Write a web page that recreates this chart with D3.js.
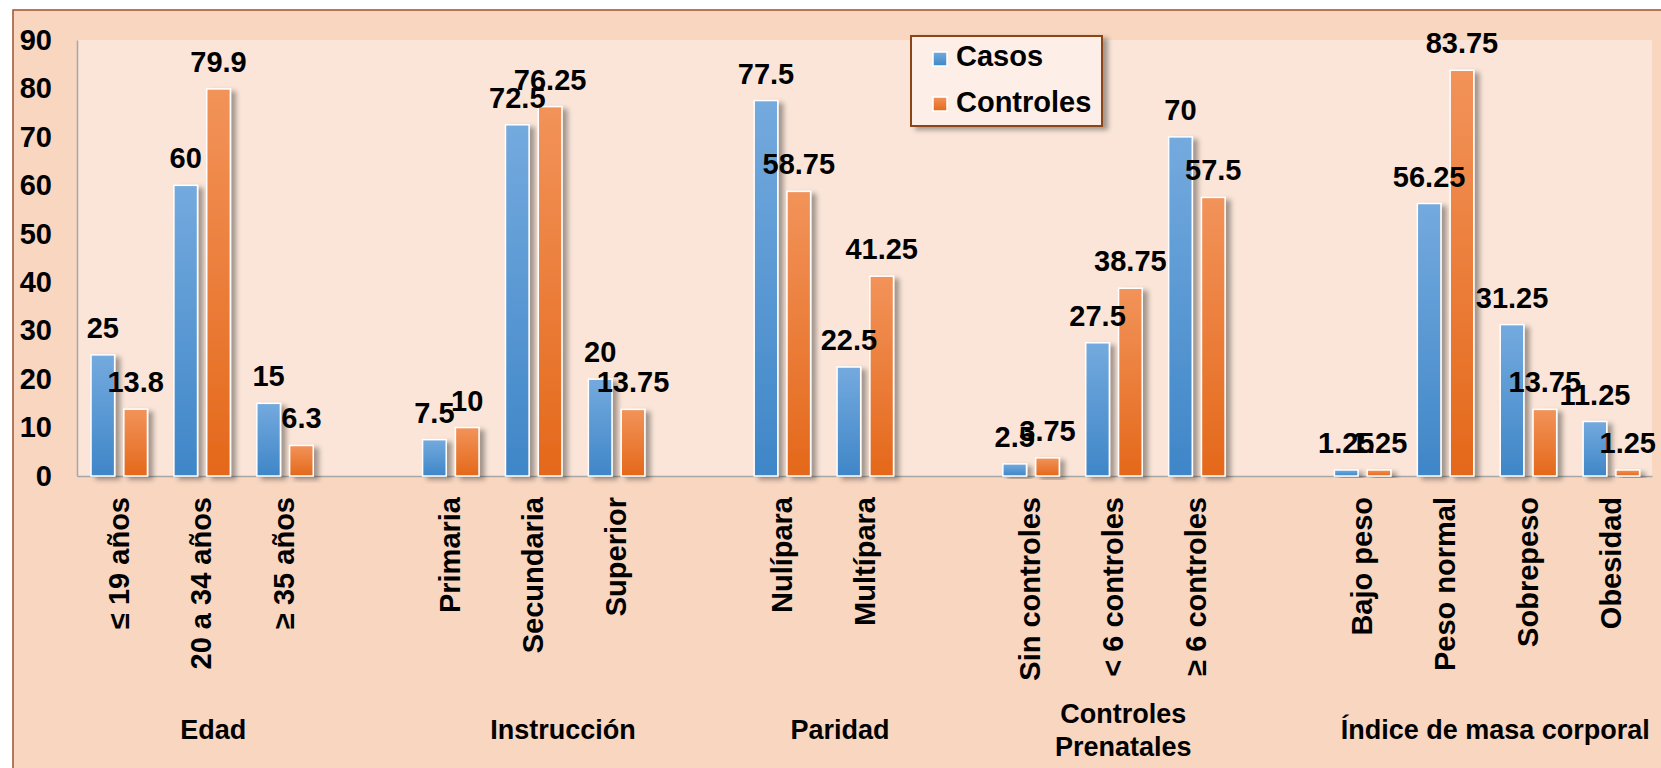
<!DOCTYPE html>
<html>
<head>
<meta charset="utf-8">
<script src="https://cdn.jsdelivr.net/npm/d3@7"></script>
<style>
  body { margin: 0; background: #fff; overflow: hidden; }
  svg text { font-family: "Liberation Sans", Arial, sans-serif; font-weight: bold; fill: #000; }
</style>
</head>
<body>
<div id="chart"></div>
<script>
// data
var groups = ["Edad", "Instrucción", "Paridad", "Controles Prenatales", "Índice de masa corporal"];
var groupCategories = [
    ["≤ 19 años", "20 a 34 años", "≥ 35 años"],
    ["Primaria", "Secundaria", "Superior"],
    ["Nulípara", "Multípara"],
    ["Sin controles", "< 6 controles", "≥ 6 controles"],
    ["Bajo peso", "Peso normal", "Sobrepeso", "Obesidad"]
];
var casos     = [25, 60, 15, 7.5, 72.5, 20, 77.5, 22.5, 2.5, 27.5, 70, 1.25, 56.25, 31.25, 11.25];
var controles = [13.8, 79.9, 6.3, 10, 76.25, 13.75, 58.75, 41.25, 3.75, 38.75, 57.5, 1.25, 83.75, 13.75, 1.25];
var seriesNames = ["Casos", "Controles"];
var yTicks = [0, 10, 20, 30, 40, 50, 60, 70, 80, 90];

// layout
var W = 1661, H = 768;
var plot = { left: 77, top: 40, right: 1652, bottom: 476 };
var groupLabelNudge = [12, 30, 17, 10, 9];
var colors = {
    Casos: ["#74aade", "#3f86c8"],
    Controles: ["#f2935a", "#e4681a"]
};

// one slot per category, with an empty slot between groups
var slots = [];
var rows = [];
var k = 0;
groupCategories.forEach(function (cats, g) {
    cats.forEach(function (c) {
        var row = { key: "c" + k, label: c, group: g, Casos: casos[k], Controles: controles[k] };
        rows.push(row);
        slots.push(row);
        k++;
    });
    if (g < groups.length - 1) slots.push({ key: "gap" + g, label: "" });
});

var svg = d3.select("#chart").append("svg").attr("width", W).attr("height", H);
var defs = svg.append("defs");

seriesNames.forEach(function (s) {
    var grad = defs.append("linearGradient").attr("id", "grad-" + s)
        .attr("x1", 0).attr("y1", 0).attr("x2", 0).attr("y2", 1);
    grad.append("stop").attr("offset", "0%").attr("stop-color", colors[s][0]);
    grad.append("stop").attr("offset", "100%").attr("stop-color", colors[s][1]);
});

var shadow = defs.append("filter").attr("id", "shadow")
    .attr("x", "-50%").attr("y", "-20%").attr("width", "200%").attr("height", "140%");
shadow.append("feDropShadow").attr("dx", 5).attr("dy", 3).attr("stdDeviation", 2.5)
    .attr("flood-color", "#000").attr("flood-opacity", 0.35);

// chart area backgrounds
svg.append("rect").attr("x", 13).attr("y", 10).attr("width", W).attr("height", H)
    .attr("fill", "#f8d6c0").attr("stroke", "#a0522d").attr("stroke-width", 1.5);
svg.append("rect").attr("x", plot.left).attr("y", plot.top)
    .attr("width", plot.right - plot.left).attr("height", plot.bottom - plot.top)
    .attr("fill", "#fae5d8");

var x = d3.scaleBand().domain(slots.map(function (d) { return d.key; }))
    .range([plot.left, plot.right]).padding(0);
var bw = x.bandwidth();
var x1 = d3.scaleBand().domain(seriesNames).range([bw * 0.169, bw * 0.85]).paddingInner(0.28);
var y = d3.scaleLinear().domain([0, 90]).range([plot.bottom, plot.top]);

// y axis
var yAxis = svg.append("g").attr("transform", "translate(" + plot.left + ",0)")
    .call(d3.axisLeft(y).tickValues(yTicks).tickSize(0).tickSizeOuter(0).tickPadding(25));
yAxis.select(".domain").attr("stroke", "#a6a6a6").attr("stroke-width", 1.5);
yAxis.selectAll("text").style("font-size", "29px");

// x axis with rotated category labels
var labelOf = {};
slots.forEach(function (d) { labelOf[d.key] = d.label; });
var xAxis = svg.append("g").attr("transform", "translate(0," + plot.bottom + ")")
    .call(d3.axisBottom(x).tickSize(0).tickSizeOuter(0).tickFormat(function (d) { return labelOf[d]; }));
xAxis.select(".domain").attr("stroke", "#a6a6a6").attr("stroke-width", 1.5);
xAxis.selectAll("text")
    .style("font-size", "29px")
    .style("text-anchor", "end")
    .attr("transform", "rotate(-90)")
    .attr("x", -21).attr("y", 0).attr("dy", "0.35em");

// bars
var catG = svg.append("g").selectAll("g").data(rows).enter().append("g")
    .attr("transform", function (d) { return "translate(" + x(d.key) + ",0)"; });

catG.selectAll("rect").data(function (d) {
    return seriesNames.map(function (s) { return { s: s, v: d[s] }; });
}).enter().append("rect")
    .attr("x", function (d) { return x1(d.s); })
    .attr("y", function (d) { return y(d.v); })
    .attr("width", x1.bandwidth())
    .attr("height", function (d) { return y(0) - y(d.v); })
    .attr("fill", function (d) { return "url(#grad-" + d.s + ")"; })
    .attr("stroke", "#fff").attr("stroke-width", 1.5)
    .attr("filter", "url(#shadow)");

catG.selectAll("text").data(function (d) {
    return seriesNames.map(function (s) { return { s: s, v: d[s] }; });
}).enter().append("text")
    .attr("x", function (d) { return x1(d.s) + x1.bandwidth() / 2; })
    .attr("y", function (d) { return y(d.v) - 17; })
    .attr("text-anchor", "middle")
    .style("font-size", "29px")
    .text(function (d) { return String(d.v); });

// group labels under the axis, wrapped when wider than the group
var groupG = svg.append("g");
groups.forEach(function (name, g) {
    var members = rows.filter(function (r) { return r.group === g; });
    var x0 = x(members[0].key), xEnd = x(members[members.length - 1].key) + bw;
    var cx = (x0 + xEnd) / 2 + groupLabelNudge[g];
    var t = groupG.append("text").attr("text-anchor", "middle").style("font-size", "27px");
    t.text(name);
    var lines = [name];
    if (t.node().getComputedTextLength() > xEnd - x0) {
        var words = name.split(" ");
        var half = Math.ceil(words.length / 2);
        lines = [words.slice(0, half).join(" "), words.slice(half).join(" ")];
    }
    t.text(null);
    lines.forEach(function (line, i) {
        t.append("tspan").attr("x", cx)
            .attr("y", 739 + (i - (lines.length - 1) / 2) * 33)
            .text(line);
    });
});

// legend
var legend = svg.append("g").attr("transform", "translate(911,36)");
legend.append("rect").attr("width", 191).attr("height", 90)
    .attr("fill", "#fdefe7").attr("stroke", "#8b4513").attr("stroke-width", 2)
    .attr("filter", "url(#shadow)");
seriesNames.forEach(function (s, i) {
    legend.append("rect").attr("x", 22).attr("y", 16 + i * 45).attr("width", 14).attr("height", 14)
        .attr("fill", "url(#grad-" + s + ")").attr("stroke", "#fff").attr("stroke-width", 1.5);
    legend.append("text").attr("x", 45).attr("y", 30 + i * 46).style("font-size", "29px").text(s);
});
</script>
</body>
</html>
